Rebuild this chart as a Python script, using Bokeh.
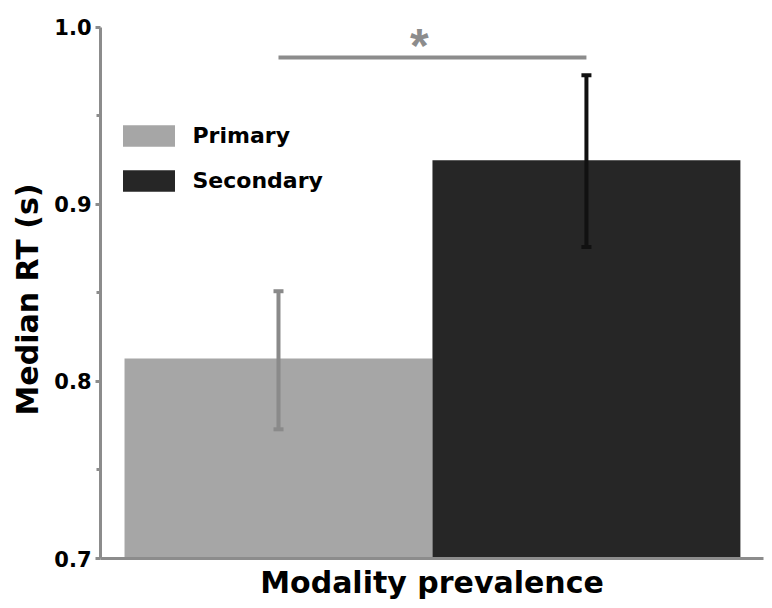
from bokeh.plotting import figure
from bokeh.models import (ColumnDataSource, Range1d, FixedTicker, Whisker, TeeHead,
                          Legend, LegendItem, NumeralTickFormatter, Title)
from bokeh.core.properties import value
from bokeh.embed import file_html
from bokeh.resources import INLINE

# Median reaction time by modality prevalence
categories = ["Primary", "Secondary"]
median_rt = [0.813, 0.925]
err_lower = [0.773, 0.876]
err_upper = [0.851, 0.973]
bar_colors = ["#a6a6a6", "#262626"]
err_colors = ["#8a8a8a", "#111111"]

# significance bracket between the two conditions
sig_level = 0.983
sig_text = "*"

y_ticks = [0.7, 0.8, 0.9, 1.0]
y_minor = [0.75, 0.85, 0.95]

FONT = "DejaVu Sans"
AXIS_GREY = "#8c8c8c"

p = figure(width=772, height=608, output_backend="svg", toolbar_location=None,
           x_range=Range1d(-0.578, 1.575), y_range=Range1d(0.7, 1.01525),
           min_border_left=100, min_border_right=9, min_border_top=0,
           min_border_bottom=50)
p.outline_line_color = None
p.grid.visible = False
p.background_fill_color = "white"

items = []
for i, cat in enumerate(categories):
    src = ColumnDataSource(dict(x=[i], top=[median_rt[i]], lo=[err_lower[i]],
                                hi=[err_upper[i]]))
    r = p.vbar(x="x", top="top", bottom=0.7, width=1.0, source=src,
               fill_color=bar_colors[i], line_color=None)
    items.append(LegendItem(label=cat, renderers=[r]))
    w = Whisker(base="x", lower="lo", upper="hi", source=src, level="overlay",
                line_color=err_colors[i], line_width=4,
                lower_head=TeeHead(size=10, line_width=4, line_color=err_colors[i]),
                upper_head=TeeHead(size=10, line_width=4, line_color=err_colors[i]))
    p.add_layout(w)

# significance bar and star
p.segment(x0=[0], x1=[1], y0=[sig_level], y1=[sig_level],
          line_color=AXIS_GREY, line_width=4)
p.text(x=[0.5], y=[sig_level], text=[sig_text], x_offset=-13, y_offset=-12,
       text_align="center", text_baseline="alphabetic",
       text_font=value("Liberation Sans"), text_font_style="bold",
       text_font_size="48px", text_color=AXIS_GREY)

legend = Legend(items=items, location=(15.5, 364), orientation="vertical",
                glyph_width=65, glyph_height=27, label_height=27,
                spacing=18, label_standoff=12, padding=0, margin=0,
                border_line_color=None, background_fill_alpha=0,
                label_text_font=FONT, label_text_font_style="bold",
                label_text_font_size="22px", label_text_color="black")
p.add_layout(legend)

# y axis
ya = p.yaxis[0]
ya.bounds = (0.7, 1.0)
ya.ticker = FixedTicker(ticks=y_ticks, minor_ticks=y_minor)
ya.formatter = NumeralTickFormatter(format="0.0")
ya.axis_line_color = AXIS_GREY
ya.axis_line_width = 3
ya.major_tick_line_color = AXIS_GREY
ya.major_tick_line_width = 3
ya.major_tick_out = 5
ya.major_tick_in = 0
ya.minor_tick_line_color = AXIS_GREY
ya.minor_tick_line_width = 3
ya.minor_tick_out = 4
ya.minor_tick_in = 0
ya.major_label_standoff = 4
ya.major_label_text_font = FONT
ya.major_label_text_font_style = "bold"
ya.major_label_text_font_size = "21px"
ya.major_label_text_color = "black"

# y title as a side title, starting a little above the x axis
p.add_layout(Title(text="Median RT (s)", align="left", offset=143,
                   standoff=13, text_font=FONT, text_font_style="bold",
                   text_font_size="30px", text_color="black"), "left")

# x axis
xa = p.xaxis[0]
xa.ticker = FixedTicker(ticks=[])
xa.axis_line_color = AXIS_GREY
xa.axis_line_width = 3
xa.major_tick_line_color = None
xa.minor_tick_line_color = None
xa.major_label_text_font_size = "0px"
xa.axis_label = "Modality prevalence"
xa.axis_label_text_font = FONT
xa.axis_label_text_font_style = "bold"
xa.axis_label_text_font_size = "30px"
xa.axis_label_text_color = "black"
xa.axis_label_standoff = 6

open("out.html", "w").write(file_html(p, INLINE))
